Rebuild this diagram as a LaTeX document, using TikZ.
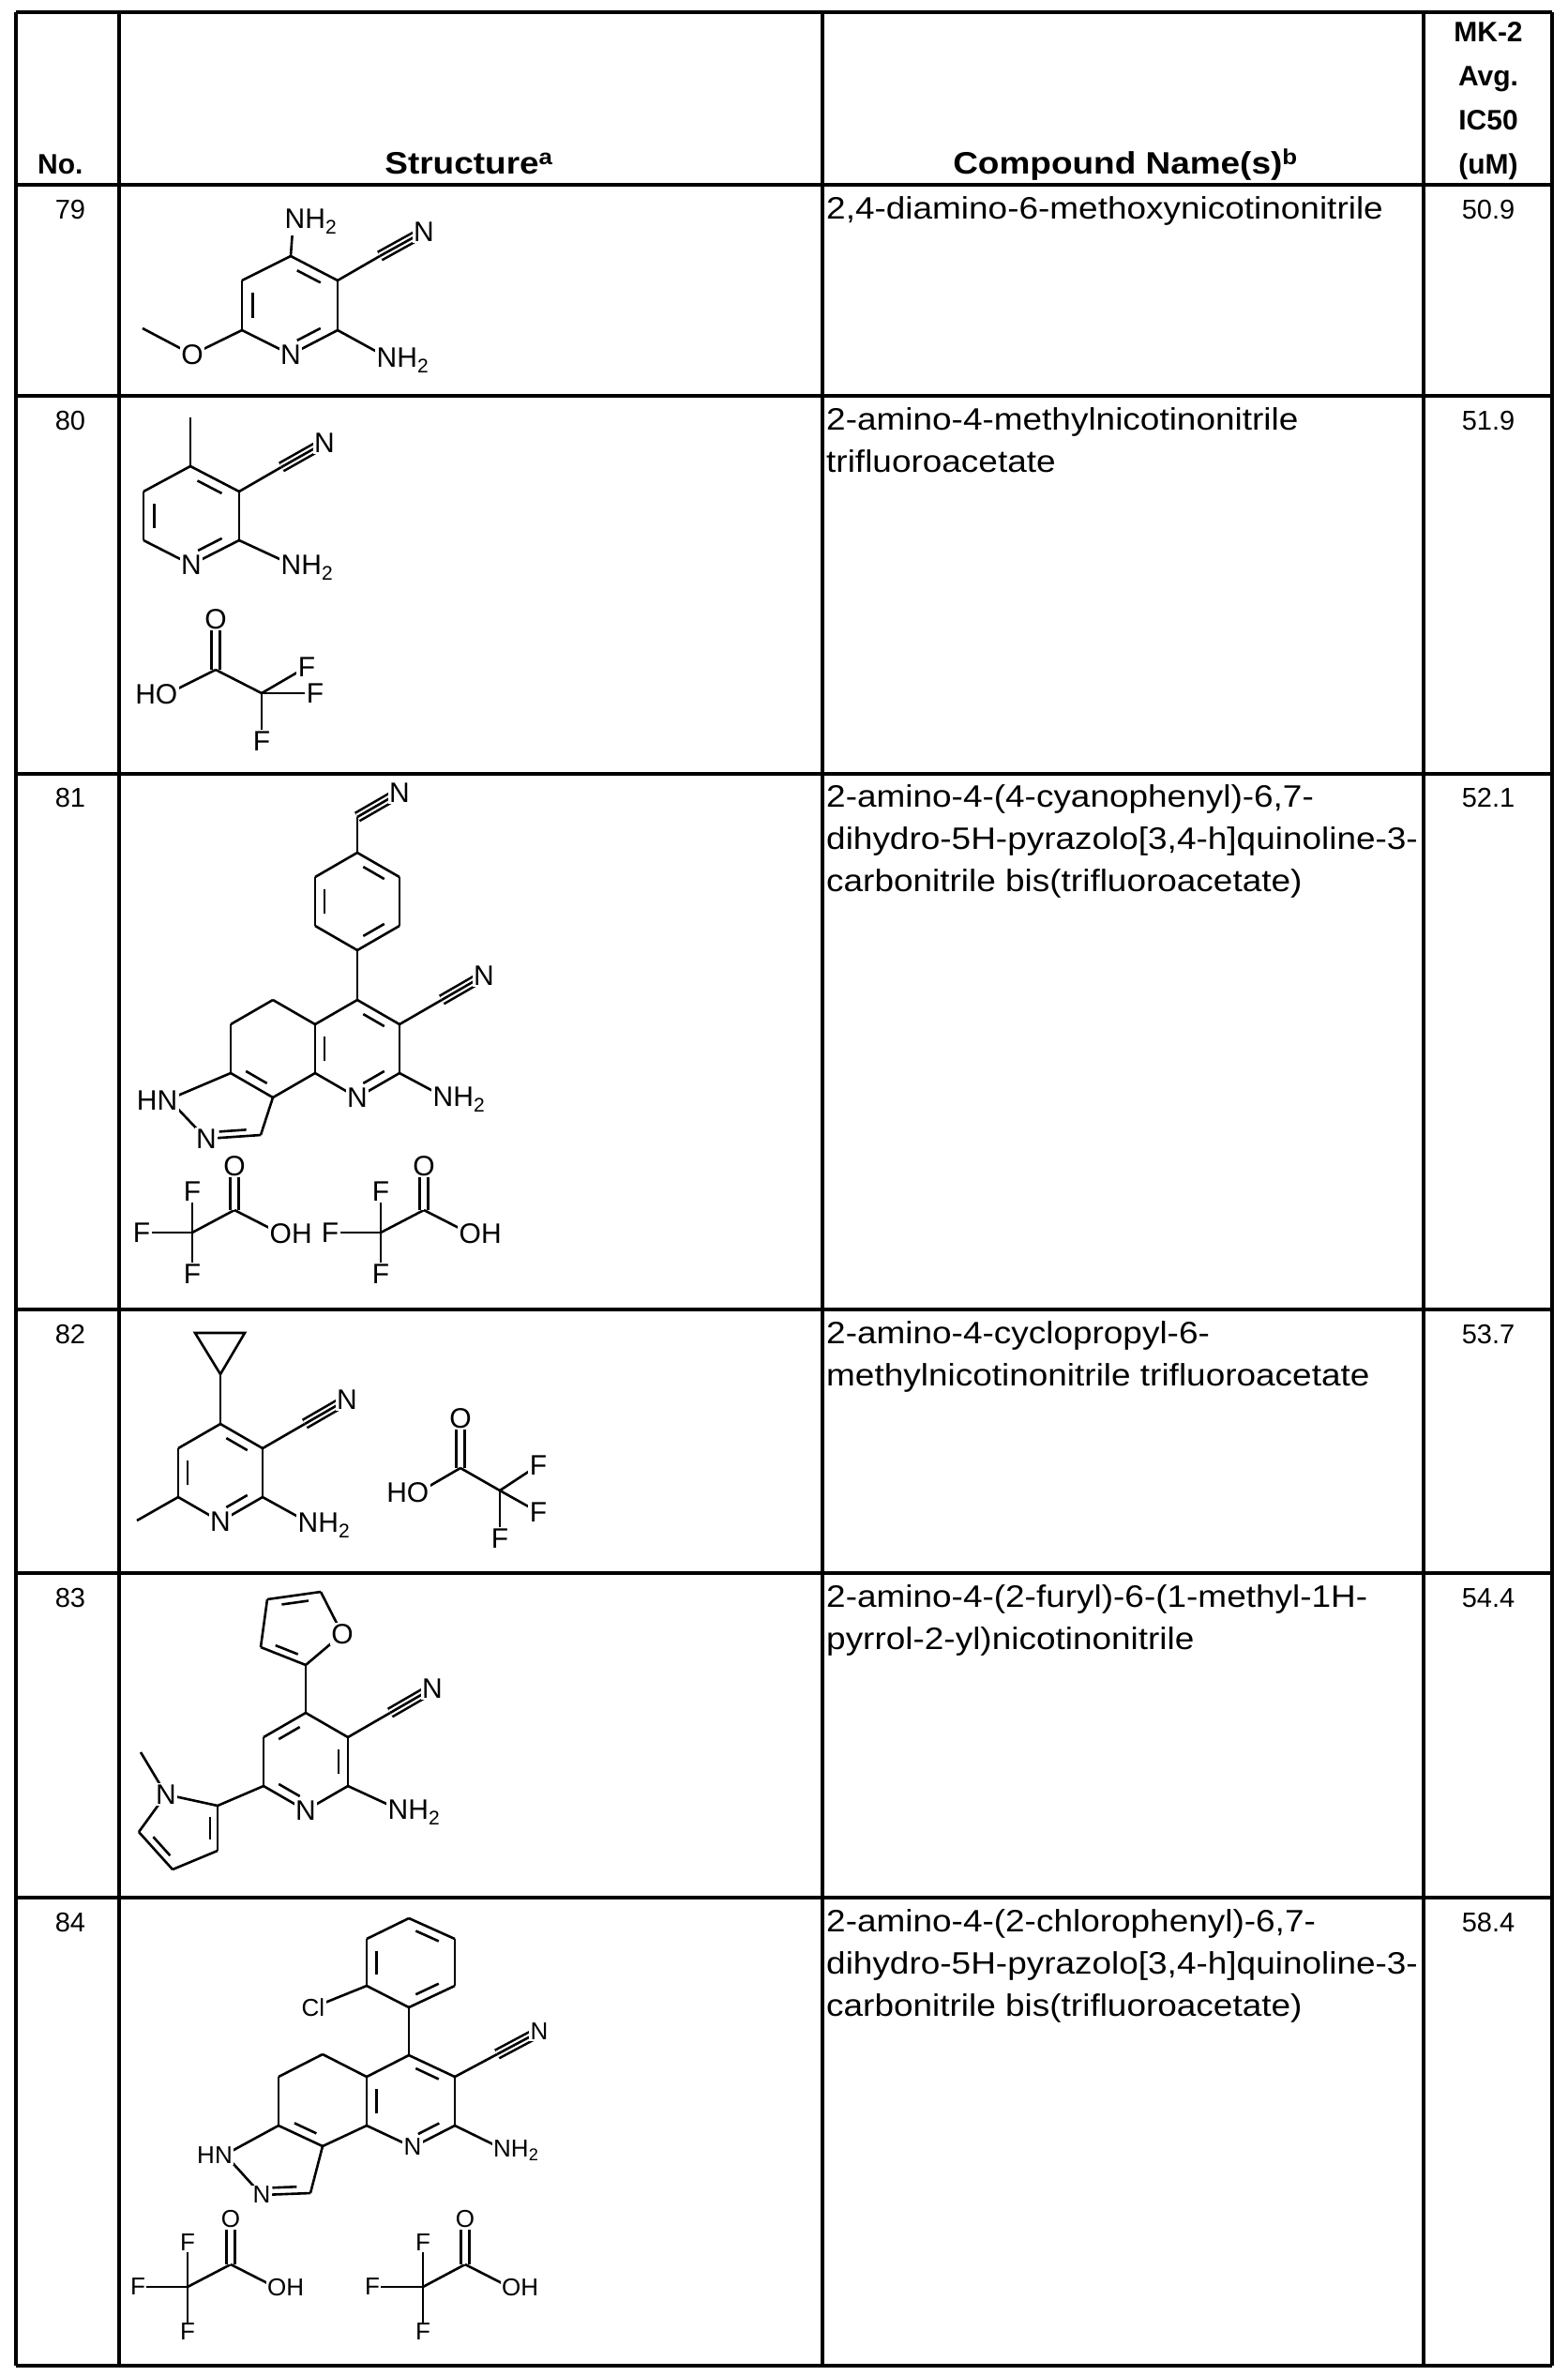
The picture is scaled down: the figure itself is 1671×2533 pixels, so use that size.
\documentclass[tikz,border=0pt]{standalone}
\usepackage{fontspec}
\setmainfont{Liberation Sans}
\newfontfamily\namefont[FakeStretch=1.12]{Liberation Sans}
\usetikzlibrary{calc}
\newcommand\Cd[2]{\coordinate (#1) at (#2);}
\newcommand\bd[2]{\draw[bond] (#1) -- (#2);}
\newcommand\inb[3]{\draw[bond] ($(#1)!0.18!(#2)!0.22!(#3)$) -- ($(#2)!0.18!(#1)!0.22!(#3)$);}
\newcommand\trip[2]{\draw[bond,double,double distance=7pt] (#1) -- (#2); \draw[bond] (#1) -- (#2);}
\newcommand\dbo[2]{\draw[bond,double,double distance=6pt] (#1) -- (#2);}
\tikzset{
 bond/.style={line width=2.6pt},
 tbl/.style={line width=3.4pt},
 txt/.style={font=\fontsize{29}{34}\selectfont, inner sep=0pt},
 nmt/.style={font=\namefont\fontsize{33}{40}\selectfont, inner sep=0pt},
 hd/.style={font=\namefont\bfseries\fontsize{33}{40}\selectfont, inner sep=0pt},
 hds/.style={font=\bfseries\fontsize{30}{34}\selectfont, inner sep=0pt},
 lbl/.style={font=\fontsize{30}{34}\selectfont, fill=white, inner sep=1.5pt},
 lbs/.style={font=\fontsize{26}{30}\selectfont, fill=white, inner sep=1.5pt},
 rw/.style={lbl,anchor=base west,xshift=-11pt,yshift=-11pt},
 lw/.style={lbl,anchor=base east,xshift=11pt,yshift=-11pt},
 rws/.style={lbs,anchor=base west,xshift=-9.5pt,yshift=-9.5pt},
 lws/.style={lbs,anchor=base east,xshift=9.5pt,yshift=-9.5pt},
}
\begin{document}
\begin{tikzpicture}[x=1pt,y=-1pt]
\useasboundingbox (0,0) rectangle (1671,2533);
% table
\foreach \yy in {13,197,422,825,1396,1677,2023,2522}{\draw[tbl] (17,\yy) -- (1655,\yy);}
\foreach \xx in {17,127,877,1518,1655}{\draw[tbl] (\xx,13) -- (\xx,2522);}
% header
\node[hds,anchor=base west] (hno) at (40,185) {No.};
\node[hd,anchor=base] (hst) at (500,185) {Structure\textsuperscript{a}};
\node[hd,anchor=base] (hcn) at (1200,185) {Compound Name(s)\textsuperscript{b}};
\node[hds,anchor=base] (hv1) at (1587,44) {MK-2};
\node[hds,anchor=base] (hv2) at (1587,91) {Avg.};
\node[hds,anchor=base] (hv3) at (1587,138) {IC50};
\node[hds,anchor=base] (hv4) at (1587,185) {(uM)};
% numbers, names, values
\node[txt,anchor=base] (n79) at (75,233) {79};
\node[txt,anchor=base] (n80) at (75,458) {80};
\node[txt,anchor=base] (n81) at (75,860) {81};
\node[txt,anchor=base] (n82) at (75,1432) {82};
\node[txt,anchor=base] (n83) at (75,1713) {83};
\node[txt,anchor=base] (n84) at (75,2059) {84};
\node[txt,anchor=base] (v79) at (1587,233) {50.9};
\node[txt,anchor=base] (v80) at (1587,458) {51.9};
\node[txt,anchor=base] (v81) at (1587,860) {52.1};
\node[txt,anchor=base] (v82) at (1587,1432) {53.7};
\node[txt,anchor=base] (v83) at (1587,1713) {54.4};
\node[txt,anchor=base] (v84) at (1587,2059) {58.4};
\node[nmt,anchor=base west] (m79a) at (881,233) {2,4-diamino-6-methoxynicotinonitrile};
\node[nmt,anchor=base west] (m80a) at (881,458) {2-amino-4-methylnicotinonitrile};
\node[nmt,anchor=base west] (m80b) at (881,503) {trifluoroacetate};
\node[nmt,anchor=base west] (m81a) at (881,860) {2-amino-4-(4-cyanophenyl)-6,7-};
\node[nmt,anchor=base west] (m81b) at (881,905) {dihydro-5H-pyrazolo[3,4-h]quinoline-3-};
\node[nmt,anchor=base west] (m81c) at (881,950) {carbonitrile bis(trifluoroacetate)};
\node[nmt,anchor=base west] (m82a) at (881,1432) {2-amino-4-cyclopropyl-6-};
\node[nmt,anchor=base west] (m82b) at (881,1477) {methylnicotinonitrile trifluoroacetate};
\node[nmt,anchor=base west] (m83a) at (881,1713) {2-amino-4-(2-furyl)-6-(1-methyl-1H-};
\node[nmt,anchor=base west] (m83b) at (881,1758) {pyrrol-2-yl)nicotinonitrile};
\node[nmt,anchor=base west] (m84a) at (881,2059) {2-amino-4-(2-chlorophenyl)-6,7-};
\node[nmt,anchor=base west] (m84b) at (881,2104) {dihydro-5H-pyrazolo[3,4-h]quinoline-3-};
\node[nmt,anchor=base west] (m84c) at (881,2149) {carbonitrile bis(trifluoroacetate)};

% ===== 79
\Cd{a4}{310,273}\Cd{a3}{360,299}\Cd{a2}{360,352}\Cd{a1}{310,378}\Cd{a6}{258,352}\Cd{a5}{258,299}\Cd{ac}{309,326}
\Cd{ao}{205,378}\Cd{ame}{152,350}\Cd{anh}{313,232}\Cd{anc}{405,273}\Cd{ann}{452,247}\Cd{anh2}{411,380}
\bd{a4}{a3}\bd{a3}{a2}\bd{a2}{a1}\bd{a1}{a6}\bd{a6}{a5}\bd{a5}{a4}
\inb{a4}{a3}{ac}\inb{a2}{a1}{ac}\inb{a6}{a5}{ac}
\bd{a6}{ao}\bd{ao}{ame}\bd{a4}{anh}\bd{a3}{anc}\trip{anc}{ann}\bd{a2}{anh2}
\node[lbl] (La1) at (a1) {N};
\node[lbl] (Lao) at (ao) {O};
\node[rw] (Lanh) at (anh) {NH\textsubscript{2}};
\node[lbl] (Lann) at (ann) {N};
\node[rw] (Lanh2) at (anh2) {NH\textsubscript{2}};

% ===== 80
\Cd{bme}{203,445}\Cd{b4}{203,497}\Cd{b3}{255,524}\Cd{b2}{255,576}\Cd{b1}{204,602}\Cd{b6}{153,576}\Cd{b5}{153,524}\Cd{bc}{204,550}
\Cd{bnc}{300,498}\Cd{bnn}{346,472}\Cd{bnh}{309,601}
\bd{b4}{b3}\bd{b3}{b2}\bd{b2}{b1}\bd{b1}{b6}\bd{b6}{b5}\bd{b5}{b4}
\inb{b4}{b3}{bc}\inb{b2}{b1}{bc}\inb{b6}{b5}{bc}
\bd{b4}{bme}\bd{b3}{bnc}\trip{bnc}{bnn}\bd{b2}{bnh}
\Cd{bcc}{230,714}\Cd{bo}{230,660}\Cd{bho}{180,739}\Cd{bcf}{279,739}\Cd{bf1}{327,711}\Cd{bf2}{336,739}\Cd{bf3}{279,790}
\dbo{bcc}{bo}\bd{bcc}{bho}\bd{bcc}{bcf}\bd{bcf}{bf1}\bd{bcf}{bf2}\bd{bcf}{bf3}
\node[lbl] (Lb1) at (b1) {N};
\node[lbl] (Lbnn) at (bnn) {N};
\node[rw] (Lbnh) at (bnh) {NH\textsubscript{2}};
\node[lbl] (Lbo) at (bo) {O};
\node[lw] (Lbho) at (bho) {HO};
\node[lbl] (Lbf1) at (bf1) {F};
\node[lbl] (Lbf2) at (bf2) {F};
\node[lbl] (Lbf3) at (bf3) {F};

% ===== 81
\Cd{cnn}{426,845}\Cd{cnc}{381,871}\Cd{cp1}{381,909}\Cd{cp2}{426,935}\Cd{cp3}{426,987}\Cd{cp4}{381,1013}\Cd{cp5}{336,987}\Cd{cp6}{336,935}\Cd{cpc}{381,961}
\Cd{c4}{381,1066}\Cd{c3}{426,1092}\Cd{c2}{426,1144}\Cd{c1}{381,1170}\Cd{c8}{336,1144}\Cd{c9}{336,1092}\Cd{cc}{381,1118}
\Cd{cm1}{291,1066}\Cd{cm2}{246,1092}\Cd{cm3}{246,1144}\Cd{cm4}{291,1170}\Cd{cmc}{291,1118}
\Cd{cn1}{180,1172}\Cd{cn2}{220,1214}\Cd{cch}{278,1210}\Cd{czc}{245,1182}
\Cd{cnc2}{471,1066}\Cd{cnn2}{516,1040}\Cd{cnh}{471,1168}
\bd{cnc}{cp1}\trip{cnc}{cnn}
\bd{cp1}{cp2}\bd{cp2}{cp3}\bd{cp3}{cp4}\bd{cp4}{cp5}\bd{cp5}{cp6}\bd{cp6}{cp1}
\inb{cp1}{cp2}{cpc}\inb{cp3}{cp4}{cpc}\inb{cp5}{cp6}{cpc}
\bd{cp4}{c4}
\bd{c4}{c3}\bd{c3}{c2}\bd{c2}{c1}\bd{c1}{c8}\bd{c8}{c9}\bd{c9}{c4}
\inb{c4}{c3}{cc}\inb{c2}{c1}{cc}\inb{c8}{c9}{cc}
\bd{c9}{cm1}\bd{cm1}{cm2}\bd{cm2}{cm3}\bd{cm3}{cm4}\bd{cm4}{c8}
\inb{cm3}{cm4}{cmc}
\bd{cm3}{cn1}\bd{cn1}{cn2}\bd{cn2}{cch}\bd{cch}{cm4}
\inb{cn2}{cch}{czc}
\bd{c3}{cnc2}\trip{cnc2}{cnn2}\bd{c2}{cnh}
\Cd{ct1f}{205,1314}\Cd{ct1a}{205,1270}\Cd{ct1b}{151,1314}\Cd{ct1d}{205,1358}\Cd{ct1c}{250,1290}\Cd{ct1o}{250,1243}\Cd{ct1h}{297,1314}
\Cd{ct2f}{406,1314}\Cd{ct2a}{406,1270}\Cd{ct2b}{352,1314}\Cd{ct2d}{406,1358}\Cd{ct2c}{452,1290}\Cd{ct2o}{452,1243}\Cd{ct2h}{499,1314}
\bd{ct1f}{ct1a}\bd{ct1f}{ct1b}\bd{ct1f}{ct1d}\bd{ct1f}{ct1c}\dbo{ct1c}{ct1o}\bd{ct1c}{ct1h}
\bd{ct2f}{ct2a}\bd{ct2f}{ct2b}\bd{ct2f}{ct2d}\bd{ct2f}{ct2c}\dbo{ct2c}{ct2o}\bd{ct2c}{ct2h}
\node[lbl] (Lcnn) at (cnn) {N};
\node[lbl] (Lc1) at (c1) {N};
\node[lw] (Lcn1) at (cn1) {HN};
\node[lbl] (Lcn2) at (cn2) {N};
\node[lbl] (Lcnn2) at (cnn2) {N};
\node[rw] (Lcnh) at (cnh) {NH\textsubscript{2}};
\node[lbl] (Lct1a) at (ct1a) {F};
\node[lbl] (Lct1b) at (ct1b) {F};
\node[lbl] (Lct1d) at (ct1d) {F};
\node[lbl] (Lct1o) at (ct1o) {O};
\node[rw] (Lct1h) at (ct1h) {OH};
\node[lbl] (Lct2a) at (ct2a) {F};
\node[lbl] (Lct2b) at (ct2b) {F};
\node[lbl] (Lct2d) at (ct2d) {F};
\node[lbl] (Lct2o) at (ct2o) {O};
\node[rw] (Lct2h) at (ct2h) {OH};

% ===== 82
\Cd{dq1}{208,1421}\Cd{dq2}{261,1421}\Cd{dq3}{235,1465}
\Cd{d4}{235,1518}\Cd{d3}{280,1544}\Cd{d2}{280,1596}\Cd{d1}{235,1622}\Cd{d6}{190,1596}\Cd{d5}{190,1544}\Cd{dc}{235,1570}
\Cd{dme}{146,1621}\Cd{dnc}{325,1518}\Cd{dnn}{370,1492}\Cd{dnh}{327,1622}
\draw[bond] (dq1) -- (dq2) -- (dq3) -- cycle;
\bd{dq3}{d4}
\bd{d4}{d3}\bd{d3}{d2}\bd{d2}{d1}\bd{d1}{d6}\bd{d6}{d5}\bd{d5}{d4}
\inb{d4}{d3}{dc}\inb{d2}{d1}{dc}\inb{d6}{d5}{dc}
\bd{d6}{dme}\bd{d3}{dnc}\trip{dnc}{dnn}\bd{d2}{dnh}
\Cd{dcc}{491,1565}\Cd{dox}{491,1512}\Cd{dho}{448,1590}\Cd{dcf}{533,1589}\Cd{df1}{574,1562}\Cd{df2}{574,1612}\Cd{df3}{533,1640}
\dbo{dcc}{dox}\bd{dcc}{dho}\bd{dcc}{dcf}\bd{dcf}{df1}\bd{dcf}{df2}\bd{dcf}{df3}
\node[lbl] (Ld1) at (d1) {N};
\node[lbl] (Ldnn) at (dnn) {N};
\node[rw] (Ldnh) at (dnh) {NH\textsubscript{2}};
\node[lbl] (Ldox) at (dox) {O};
\node[lw] (Ldho) at (dho) {HO};
\node[lbl] (Ldf1) at (df1) {F};
\node[lbl] (Ldf2) at (df2) {F};
\node[lbl] (Ldf3) at (df3) {F};

% ===== 83
\Cd{ef2}{326,1775}\Cd{efo}{365,1742}\Cd{ef5}{342,1697}\Cd{ef4}{285,1705}\Cd{ef3}{278,1756}\Cd{efc}{319,1735}
\Cd{e4}{326,1826}\Cd{e3}{371,1852}\Cd{e2}{371,1904}\Cd{e1}{326,1930}\Cd{e6}{281,1904}\Cd{e5}{281,1852}\Cd{ec}{326,1878}
\Cd{enc}{416,1826}\Cd{enn}{461,1800}\Cd{enh}{423,1928}
\Cd{ep2}{232,1925}\Cd{epn}{177,1913}\Cd{epm}{150,1868}\Cd{ep5}{148,1953}\Cd{ep4}{184,1993}\Cd{ep3}{232,1973}\Cd{epc}{195,1951}
\bd{ef2}{efo}\bd{efo}{ef5}\bd{ef5}{ef4}\bd{ef4}{ef3}\bd{ef3}{ef2}
\inb{ef4}{ef5}{efc}\inb{ef3}{ef2}{efc}
\bd{ef2}{e4}
\bd{e4}{e3}\bd{e3}{e2}\bd{e2}{e1}\bd{e1}{e6}\bd{e6}{e5}\bd{e5}{e4}
\inb{e4}{e5}{ec}\inb{e3}{e2}{ec}\inb{e6}{e1}{ec}
\bd{e3}{enc}\trip{enc}{enn}\bd{e2}{enh}
\bd{e6}{ep2}\bd{ep2}{epn}\bd{epn}{epm}\bd{epn}{ep5}\bd{ep5}{ep4}\bd{ep4}{ep3}\bd{ep3}{ep2}
\inb{ep2}{ep3}{epc}\inb{ep4}{ep5}{epc}
\node[lbl] (Lefo) at (efo) {O};
\node[lbl] (Le1) at (e1) {N};
\node[lbl] (Lenn) at (enn) {N};
\node[rw] (Lenh) at (enh) {NH\textsubscript{2}};
\node[lbl] (Lepn) at (epn) {N};

% ===== 84
\Cd{fp1}{436,2140}\Cd{fp2}{391,2117}\Cd{fp3}{391,2067}\Cd{fp4}{436,2045}\Cd{fp5}{485,2067}\Cd{fp6}{485,2117}\Cd{fpc}{438,2092}\Cd{fcl}{334,2140}
\Cd{f4}{436,2191}\Cd{f3}{485,2214}\Cd{f2}{485,2266}\Cd{f1}{440,2289}\Cd{f8}{391,2266}\Cd{f9}{391,2214}\Cd{fc}{438,2240}
\Cd{fm1}{344,2190}\Cd{fm2}{297,2214}\Cd{fm3}{297,2266}\Cd{fm4}{344,2288}\Cd{fmc}{344,2240}
\Cd{fhn}{240,2297}\Cd{fn2}{279,2340}\Cd{fch}{331,2338}\Cd{fzc}{298,2306}
\Cd{fnc}{530,2190}\Cd{fnn}{575,2166}\Cd{fnh}{534,2290}
\bd{fp1}{fp2}\bd{fp2}{fp3}\bd{fp3}{fp4}\bd{fp4}{fp5}\bd{fp5}{fp6}\bd{fp6}{fp1}
\inb{fp4}{fp5}{fpc}\inb{fp6}{fp1}{fpc}\inb{fp2}{fp3}{fpc}
\bd{fp2}{fcl}\bd{fp1}{f4}
\bd{f4}{f3}\bd{f3}{f2}\bd{f2}{f1}\bd{f1}{f8}\bd{f8}{f9}\bd{f9}{f4}
\inb{f4}{f3}{fc}\inb{f2}{f1}{fc}\inb{f8}{f9}{fc}
\bd{f9}{fm1}\bd{fm1}{fm2}\bd{fm2}{fm3}\bd{fm3}{fm4}\bd{fm4}{f8}
\inb{fm3}{fm4}{fmc}
\bd{fm3}{fhn}\bd{fhn}{fn2}\bd{fn2}{fch}\bd{fch}{fm4}
\inb{fn2}{fch}{fzc}
\bd{f3}{fnc}\trip{fnc}{fnn}\bd{f2}{fnh}
\Cd{fa}{200,2438}\Cd{fat}{200,2391}\Cd{fal}{147,2438}\Cd{fab}{200,2486}\Cd{fac}{246,2414}\Cd{fao}{246,2366}\Cd{fah}{293,2438}
\Cd{fb}{451,2438}\Cd{fbt}{451,2391}\Cd{fbl}{397,2438}\Cd{fbb}{451,2486}\Cd{fbc}{496,2414}\Cd{fbo}{496,2366}\Cd{fbh}{543,2438}
\bd{fa}{fat}\bd{fa}{fal}\bd{fa}{fab}\bd{fa}{fac}\dbo{fac}{fao}\bd{fac}{fah}
\bd{fb}{fbt}\bd{fb}{fbl}\bd{fb}{fbb}\bd{fb}{fbc}\dbo{fbc}{fbo}\bd{fbc}{fbh}
\node[lbs] (Lfcl) at (fcl) {Cl};
\node[lbs] (Lf1) at (f1) {N};
\node[lws] (Lfhn) at (fhn) {HN};
\node[lbs] (Lfn2) at (fn2) {N};
\node[lbs] (Lfnn) at (fnn) {N};
\node[rws] (Lfnh) at (fnh) {NH\textsubscript{2}};
\node[lbs] (Lfat) at (fat) {F};
\node[lbs] (Lfal) at (fal) {F};
\node[lbs] (Lfab) at (fab) {F};
\node[lbs] (Lfao) at (fao) {O};
\node[rws] (Lfah) at (fah) {OH};
\node[lbs] (Lfbt) at (fbt) {F};
\node[lbs] (Lfbl) at (fbl) {F};
\node[lbs] (Lfbb) at (fbb) {F};
\node[lbs] (Lfbo) at (fbo) {O};
\node[rws] (Lfbh) at (fbh) {OH};
\end{tikzpicture}
\end{document}
